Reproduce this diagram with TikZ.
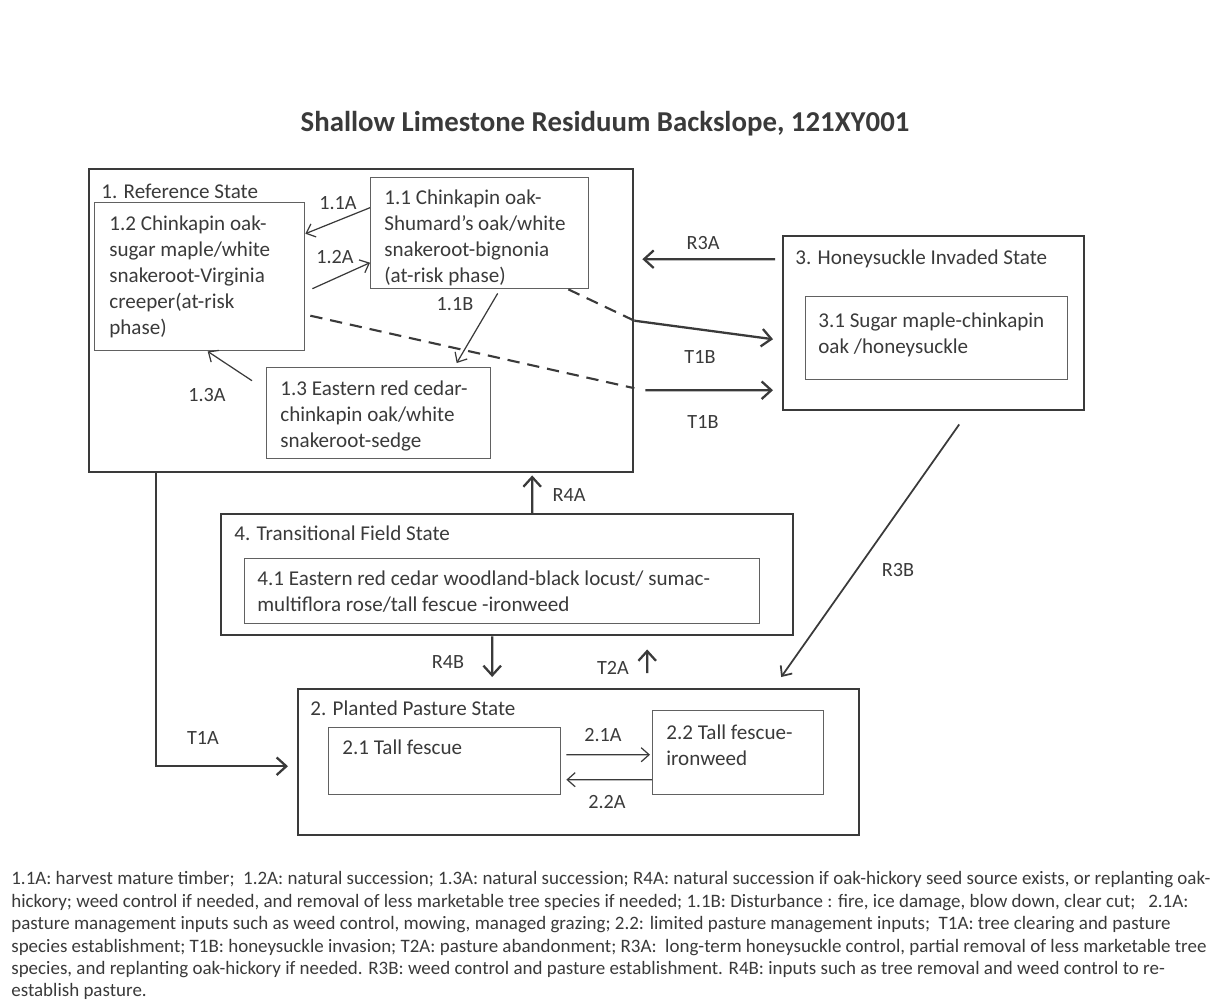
\documentclass[tikz,border=0pt]{standalone}
\usepackage{fontspec}
\setmainfont{Carlito}
\usepackage{tikz}
\usetikzlibrary{arrows.meta,calc}
\definecolor{ink}{HTML}{3A3A3A}

\tikzset{
  statebox/.style={draw=ink, line width=1.4pt, anchor=north west, inner sep=0pt},
  phasebox/.style={draw=ink!80, line width=0.8pt, anchor=north west, inner sep=0pt},
  boxtext/.style={anchor=north west, align=left, inner sep=0pt, text=ink, font=\fontsize{12}{14.8}\selectfont},
  lbl/.style={text=ink, inner sep=0pt, font=\fontsize{11.5}{13}\selectfont},
  minorarr/.style={draw=ink, line width=0.7pt, -{Straight Barb[length=4.5pt,width=8pt]}},
  majorarr/.style={draw=ink, line width=1.3pt, -{Straight Barb[length=5.5pt,width=10pt]}},
  dashline/.style={draw=ink, line width=1.2pt, dash pattern=on 7pt off 4.5pt},
}

\begin{document}
\begin{tikzpicture}[x=0.02cm, y=-0.02cm]
\useasboundingbox (0,0) rectangle (1226,1002);

\node[text=ink, inner sep=0pt, font=\bfseries\fontsize{16.4}{19}\selectfont] (title) at (605,124) {Shallow Limestone Residuum Backslope, 121XY001};

% state 1
\node[statebox, minimum width=10.88cm, minimum height=6.06cm] (s1) at (88,168) {};
\node[boxtext] (t1) at (101,184) {1. Reference State};
\node[phasebox, minimum width=4.2cm, minimum height=2.96cm] (b12) at (94,202) {};
\node[boxtext] (t12) at (109,215) {1.2 Chinkapin oak-\\sugar maple/white\\snakeroot-Virginia\\creeper(at-risk\\phase)};
\node[phasebox, minimum width=4.36cm, minimum height=2.22cm] (b11) at (370,177) {};
\node[boxtext] (t11) at (384,189) {1.1 Chinkapin oak-\\Shumard’s oak/white\\snakeroot-bignonia\\(at-risk phase)};
\node[phasebox, minimum width=4.48cm, minimum height=1.82cm] (b13) at (266,367) {};
\node[boxtext] (t13) at (280,380) {1.3 Eastern red cedar-\\chinkapin oak/white\\snakeroot-sedge};

% state 3
\node[statebox, minimum width=6.02cm, minimum height=3.48cm] (s3) at (782,235) {};
\node[boxtext] (t3) at (795,249) {3. Honeysuckle Invaded State};
\node[phasebox, minimum width=5.24cm, minimum height=1.66cm] (b31) at (805,296) {};
\node[boxtext] (t31) at (818,312) {3.1 Sugar maple-chinkapin\\oak /honeysuckle};

% state 4
\node[statebox, minimum width=11.44cm, minimum height=2.42cm] (s4) at (220,513) {};
\node[boxtext] (t4) at (234,525) {4. Transitional Field State};
\node[phasebox, minimum width=10.3cm, minimum height=1.3cm] (b41) at (244,558) {};
\node[boxtext] (t41) at (257,570) {4.1 Eastern red cedar woodland-black locust/ sumac-\\multiflora rose/tall fescue -ironweed};

% state 2
\node[statebox, minimum width=11.22cm, minimum height=2.92cm] (s2) at (297,688) {};
\node[boxtext] (t2) at (310,700) {2. Planted Pasture State};
\node[phasebox, minimum width=4.64cm, minimum height=1.34cm] (b21) at (328,727) {};
\node[boxtext] (t21) at (342,739) {2.1 Tall fescue};
\node[phasebox, minimum width=3.42cm, minimum height=1.68cm] (b22) at (652,710) {};
\node[boxtext] (t22) at (666,724) {2.2 Tall fescue-\\ironweed};

% inside state 1
\draw[minorarr] ($(b11.west)+(0,-25.5)$) -- ($(b12.east)+(0,-43)$);
\draw[minorarr] ($(b12.east)+(7,12)$) -- ($(b11.west)+(0,29.5)$);
\draw[minorarr] ($(b11.south)+(18,4)$) -- ($(b13.north)+(78,-4)$);
\draw[minorarr] ($(b13.west)+(-14,-32.5)$) -- ($(b12.south)+(8,0)$);
\node[lbl] (l11a) at (338,203) {1.1A};
\node[lbl] (l12a) at (335,257) {1.2A};
\node[lbl] (l11b) at (455,304) {1.1B};
\node[lbl] (l13a) at (207,395) {1.3A};

% T1B, R3A
\draw[dashline] ($(b11.south east)+(-21,0)$) -- (s1.east);
\draw[majorarr] (s1.east) -- ($(s3.west)+(-9,16)$);
\draw[dashline] ($(b12.east)+(5,39)$) -- ($(s1.east)+(0,67.5)$);
\draw[majorarr] ($(s1.east)+(11,69.5)$) -- ($(s3.west)+(-9,67)$);
\draw[majorarr] ($(s3.west)+(-7,-64)$) -- ($(s1.east)+(8,-61.5)$);
\node[lbl] (lr3a) at (703,243) {R3A};
\node[lbl] (lt1b) at (700,357) {T1B};
\node[lbl] (lt1b2) at (703,422) {T1B};

% R3B
\draw[minorarr, line width=1pt] ($(s3.south)+(25.5,13)$) -- ($(s2.north)+(202.5,-11)$);
\node[lbl] (lr3b) at (898,570) {R3B};

% R4A, R4B, T2A, T1A
\draw[majorarr] ($(s4.north)+(25,0)$) -- ($(s1.south)+(171,2)$);
\node[lbl] (lr4a) at (569,495) {R4A};
\draw[majorarr] ($(s4.south)+(-15,0)$) -- ($(s2.north)+(-86.5,-11)$);
\node[lbl] (lr4b) at (448,662) {R4B};
\draw[majorarr] ($(s2.north)+(68.5,-15)$) -- ($(s4.south)+(140,13)$);
\node[lbl] (lt2a) at (613,668) {T2A};
\draw[majorarr] ($(s1.south)+(-205,0)$) |- ($(s2.west)+(-9,4)$);
\node[lbl] (lt1a) at (203,738) {T1A};

% inside state 2
\draw[minorarr] ($(b21.east)+(5,-6.5)$) -- ($(b22.west)+(-2,2)$);
\draw[minorarr] ($(b22.west)+(0,27)$) -- ($(b21.east)+(5,18.5)$);
\node[lbl] (l21a) at (603,735) {2.1A};
\node[lbl] (l22a) at (607,802) {2.2A};

% legend
\node[anchor=north west, align=left, inner sep=0pt, text=ink, font=\fontsize{10.8}{12.8}\selectfont] (notes) at (11,871) {1.1A: harvest mature timber;\ \ 1.2A: natural succession; 1.3A: natural succession; R4A: natural succession if oak-hickory seed source exists, or replanting oak-\\
hickory; weed control if needed, and removal of less marketable tree species if needed; 1.1B: Disturbance : fire, ice damage, blow down, clear cut;\ \ \ 2.1A:\\
pasture management inputs such as weed control, mowing, managed grazing; 2.2: limited pasture management inputs;\ \ T1A: tree clearing and pasture\\
species establishment; T1B: honeysuckle invasion; T2A: pasture abandonment; R3A:\ \ long-term honeysuckle control, partial removal of less marketable tree\\
species, and replanting oak-hickory if needed. R3B: weed control and pasture establishment. R4B: inputs such as tree removal and weed control to re-\\
establish pasture.};

\end{tikzpicture}
\end{document}
